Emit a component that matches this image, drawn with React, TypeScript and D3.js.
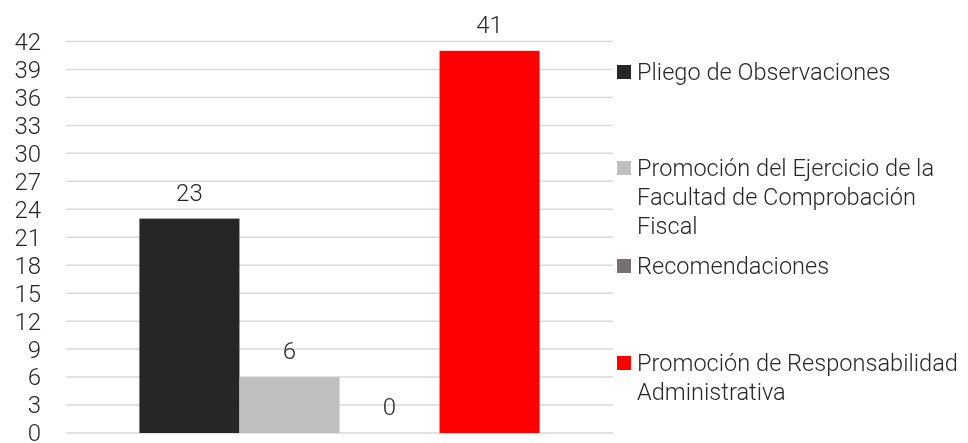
import * as d3 from "d3";
import { useEffect, useRef } from "react";

const series = [
  "Pliego de Observaciones",
  "Promoción del Ejercicio de la Facultad de Comprobación Fiscal",
  "Recomendaciones",
  "Promoción de Responsabilidad Administrativa",
];
const values = [23, 6, 0, 41];
const colors = ["#262626", "#bfbfbf", "#767171", "#ff0000"];
const legendLines = [
  ["Pliego de Observaciones"],
  ["Promoción del Ejercicio de la", "Facultad de Comprobación", "Fiscal"],
  ["Recomendaciones"],
  ["Promoción de Responsabilidad", "Administrativa"],
];
const yTicks = d3.range(0, 43, 3);

function App() {
  const ref = useRef<SVGSVGElement>(null);

  useEffect(() => {
    const width = 968;
    const height = 443;
    const svg = d3.select(ref.current);
    svg.selectAll("*").remove();

    const font = "'Roboto Light', Roboto, sans-serif";
    const y = d3.scaleLinear().domain([0, 42]).range([433, 41.5]);
    const x0 = d3.scaleBand().domain(["g"]).range([66, 613]).padding(0.155);
    const x1 = d3
      .scaleBand()
      .domain(series)
      .range([0, x0.bandwidth()]);

    // gridlines
    svg
      .append("g")
      .selectAll("line")
      .data(yTicks)
      .join("line")
      .attr("x1", 66)
      .attr("x2", 613)
      .attr("y1", (d) => y(d))
      .attr("y2", (d) => y(d))
      .attr("stroke", "#d9d9d9")
      .attr("stroke-width", 1.5);

    // y labels
    svg
      .append("g")
      .selectAll("text")
      .data(yTicks)
      .join("text")
      .attr("x", 41)
      .attr("y", (d) => y(d))
      .attr("dy", "0.35em")
      .attr("text-anchor", "end")
      .style("font", `300 24px ${font}`)
      .attr("fill", "#262626")
      .text((d) => d);

    const g = svg.append("g").attr("transform", `translate(${x0("g")},0)`);

    g.selectAll("rect")
      .data(series)
      .join("rect")
      .attr("x", (d) => x1(d)!)
      .attr("width", x1.bandwidth())
      .attr("y", (_, i) => y(values[i]))
      .attr("height", (_, i) => y(0) - y(values[i]))
      .attr("fill", (_, i) => colors[i]);

    g.selectAll("text")
      .data(series)
      .join("text")
      .attr("x", (d) => x1(d)! + x1.bandwidth() / 2)
      .attr("y", (_, i) => y(values[i]) - 18)
      .attr("text-anchor", "middle")
      .style("font", `300 24px ${font}`)
      .attr("fill", "#262626")
      .text((_, i) => values[i]);

    // legend
    const legendTop = [72, 168, 266, 363];
    const legend = svg
      .append("g")
      .selectAll("g")
      .data(series)
      .join("g")
      .attr("transform", (_, i) => `translate(617,${legendTop[i]})`);

    legend
      .append("rect")
      .attr("y", -7)
      .attr("width", 14)
      .attr("height", 14)
      .attr("fill", (_, i) => colors[i]);

    legend
      .append("text")
      .style("font", `300 23.6px ${font}`)
      .attr("fill", "#262626")
      .selectAll("tspan")
      .data((_, i) => legendLines[i])
      .join("tspan")
      .attr("x", 20)
      .attr("y", (_, j) => j * 29)
      .attr("dy", "0.35em")
      .text((d) => d);

    svg.attr("width", width).attr("height", height);
  }, []);

  return (
    <div style={{ position: "fixed", left: 0, top: 0 }}>
      <svg
        ref={ref}
        style={{ display: "block", background: "#fff", overflow: "visible" }}
      ></svg>
    </div>
  );
}

export default App;
